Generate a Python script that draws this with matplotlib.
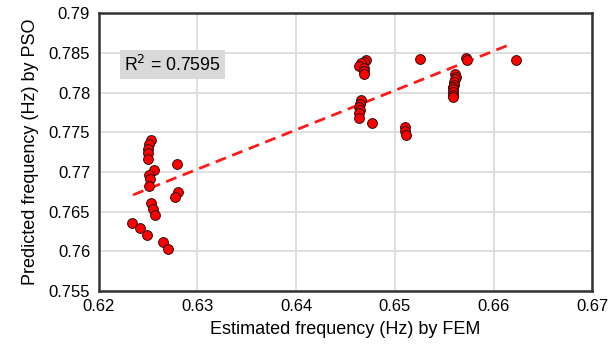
import numpy as np
import matplotlib
matplotlib.use('Agg')
import matplotlib.pyplot as plt

plt.rcParams['font.family'] = ['Liberation Sans', 'DejaVu Sans']

# FEM estimated frequency vs PSO predicted frequency (Hz)
fem_freq = [
    0.6253, 0.6251, 0.6250, 0.6250, 0.6250, 0.6256, 0.6251, 0.6252, 0.6251,
    0.6279, 0.6280, 0.6277, 0.6253, 0.6255, 0.6257, 0.6234, 0.6242, 0.6249,
    0.6265, 0.6270,
    0.6471, 0.6469, 0.6466, 0.6464, 0.6469, 0.6469, 0.6469,
    0.6466, 0.6465, 0.6464, 0.6465, 0.6464, 0.6464, 0.6477,
    0.6525, 0.6572, 0.6573, 0.6623,
    0.6561, 0.6562, 0.6561, 0.6560, 0.6560, 0.6559, 0.6559, 0.6559, 0.6559, 0.6559,
    0.6510, 0.6510, 0.6511,
]
pso_freq = [
    0.7740, 0.7735, 0.7729, 0.7724, 0.7716, 0.7703, 0.7696, 0.7691, 0.7682,
    0.7710, 0.7675, 0.7668, 0.7661, 0.7653, 0.7645, 0.7636, 0.7629, 0.7621,
    0.7612, 0.7603,
    0.7841, 0.7839, 0.7837, 0.7834, 0.7831, 0.7827, 0.7824,
    0.7791, 0.7786, 0.7782, 0.7778, 0.7774, 0.7768, 0.7762,
    0.7843, 0.7844, 0.7841, 0.7841,
    0.7823, 0.7820, 0.7817, 0.7814, 0.7810, 0.7807, 0.7804, 0.7801, 0.7797, 0.7794,
    0.7757, 0.7751, 0.7746,
]

# linear trend line endpoints
trend_x = [0.6235, 0.6615]
trend_y = [0.7671, 0.7860]
r2_text = 'R$^2$ = 0.7595'

xticks = [0.62, 0.63, 0.64, 0.65, 0.66, 0.67]
yticks = [0.755, 0.76, 0.765, 0.77, 0.775, 0.78, 0.785, 0.79]

fig = plt.figure(figsize=(6.12, 3.47), dpi=100)
ax = fig.add_axes([0.161, 0.162, 0.807, 0.7994])

ax.grid(True, color='#d9d9d9', linewidth=1.2)
ax.set_axisbelow(True)

ax.plot(trend_x, trend_y, color='#ff1a1a', linewidth=2.0, dashes=(4, 2.4), zorder=2)
ax.scatter(fem_freq, pso_freq, s=50, color='#ff0000', edgecolors='#331010',
           linewidths=0.7, zorder=3)

ax.set_xlim(0.62, 0.67)
ax.set_ylim(0.755, 0.79)
ax.set_xticks(xticks)
ax.set_yticks(yticks)
ax.set_xticklabels([f'{v:g}' for v in xticks])
ax.set_yticklabels([f'{v:g}' for v in yticks])
ax.tick_params(length=0, labelsize=12, pad=6)

for sp in ax.spines.values():
    sp.set_color('#333333')
    sp.set_linewidth(1.8)

ax.set_xlabel('Estimated frequency (Hz) by FEM', fontsize=13, labelpad=5)
ax.set_ylabel('Predicted frequency (Hz) by PSO', fontsize=13, labelpad=7)

ax.text(0.052, 0.815, r2_text, transform=ax.transAxes, fontsize=12.7,
        va='center', ha='left',
        bbox=dict(boxstyle='square,pad=0.25', facecolor='#d9d9d9', edgecolor='none'))

fig.savefig('out.png', dpi=100)
